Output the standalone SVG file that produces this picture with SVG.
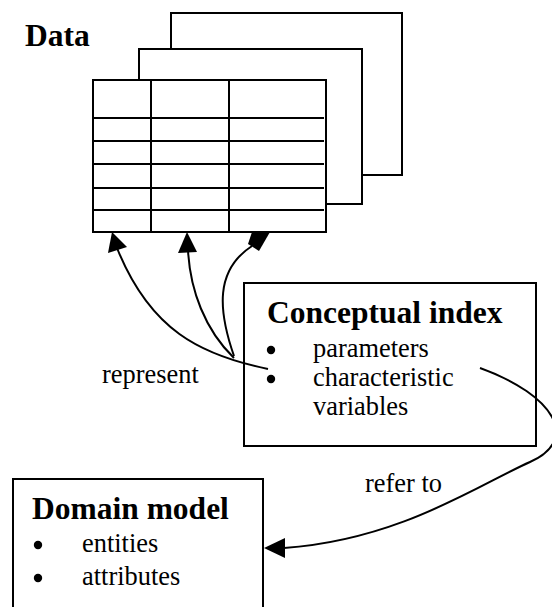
<svg xmlns="http://www.w3.org/2000/svg" width="552" height="607" viewBox="0 0 552 607">
<style>
.sheet{fill:#fff;stroke:#000;stroke-width:2}
.grid{stroke:#000;stroke-width:2;fill:none}
.box{fill:#fff;stroke:#000;stroke-width:2}
.title{font-family:"Liberation Serif",serif;font-weight:bold;font-size:31.5px;fill:#000}
.body{font-family:"Liberation Serif",serif;font-size:26.4px;fill:#000}
.conn{fill:none;stroke:#000;stroke-width:2}
.head{fill:#000;stroke:none}
</style>
<rect width="552" height="607" fill="#fff"/>
<g id="data">
  <text class="title" x="25" y="46">Data</text>
  <rect class="sheet" x="171" y="13" width="231" height="162"/>
  <rect class="sheet" x="139" y="49" width="223" height="155"/>
  <rect class="sheet" x="93" y="80" width="233" height="152"/>
  <path class="grid" d="M151,80V232M229,80V232M93,118H324M93,141H324M93,164H324M93,188H324M93,210H324"/>
</g>
<g id="conceptual-index">
  <rect class="box" x="244" y="283" width="292" height="163"/>
  <text class="title" x="267" y="323">Conceptual index</text>
  <circle cx="271" cy="350" r="4.2"/>
  <text class="body" x="313" y="357">parameters</text>
  <circle cx="271" cy="379" r="4.2"/>
  <text class="body" x="313" y="386">characteristic</text>
  <text class="body" x="313" y="415">variables</text>
</g>
<g id="domain-model">
  <rect class="box" x="13" y="479" width="250" height="150"/>
  <text class="title" x="32" y="519">Domain model</text>
  <circle cx="38" cy="545" r="4.2"/>
  <text class="body" x="82" y="552">entities</text>
  <circle cx="38" cy="578" r="4.2"/>
  <text class="body" x="82" y="585">attributes</text>
</g>
<g id="connectors">
  <path class="conn" d="M268,369 C200,355 150,330 117,248"/>
  <polygon class="head" points="112,232 108,253 127,247"/>
  <path class="conn" d="M234,358 C205,330 190,290 188,250"/>
  <polygon class="head" points="187,232 178,253 197,252"/>
  <path class="conn" d="M234,356 C218,310 215,270 252,246"/>
  <polygon class="head" points="252,232 270,232 259,251 248,244"/>
  <text class="body" x="102" y="383">represent</text>
  <path class="conn" d="M480,368 C555,395 580,440 530,462 C480,484 400,540 284,548"/>
  <polygon class="head" points="264,548 285,538 285,558"/>
  <text class="body" x="365" y="492">refer to</text>
</g>
</svg>
